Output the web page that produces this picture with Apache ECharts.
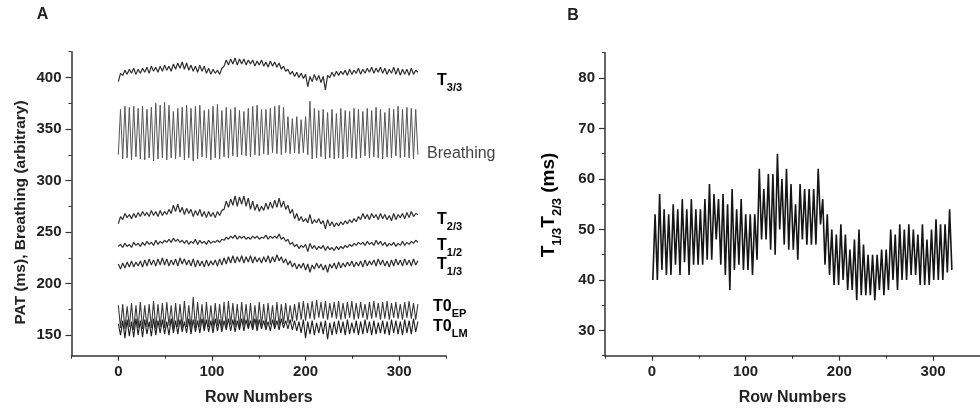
<!DOCTYPE html>
<html>
<head>
<meta charset="utf-8">
<script src="https://cdn.jsdelivr.net/npm/echarts@6/dist/echarts.min.js"></script>
<style>
html, body { margin: 0; padding: 0; background: #fff; }
#chart { width: 980px; height: 412px; }
</style>
</head>
<body>
<div id="chart"></div>
<script>
// values read at successive peaks / troughs of each trace (rows 0..320)
var t33 = [396,404,402,407,403,408,404,409,403,408, 404,409,405,410,404,411,406,410,405,411,
  406,412,407,411,406,413,408,414,409,415, 408,414,407,412,406,411,405,412,406,411,
  404,409,403,408,404,407,403,409, 411,417,412,418,413,419,412,418,413,418,412,417,
  413,417,411,416,412,417,411,415,410,416, 411,415,410,414,408,411,406,408,403,406,
  401,405,400,404,399,403, 391,401,396,403,397,402,395,401,388,402,400,405,401,406,
  402,406,403,407,402,408,403,407,404,409, 403,408,404,409,405,410,404,409,405,410,
  404,409,403,408,404,410,403,409,402,408, 403,408,402,409,403,407,405];
var breathing = [325,369,321,372,322,371,320,372,323,370, 321,372,320,369,322,371,319,375,321,373,
  322,376,320,373,322,367,321,370,323,371, 320,373,322,370,319,372,321,373,323,368,
  322,369,320,372,322,374,321,368,323,371, 322,369,324,371,323,368,325,367,324,370,
  323,372,325,373,324,369,326,369,325,370, 327,372,326,373,325,371,327,362,326,360,
  327,362,326,359,327,362,325,377,321,370, 322,368,323,369,321,366,322,369,321,365,
  322,370,321,368,323,367,322,370,321,369, 322,367,324,370,322,368,323,371,322,369,
  321,366,323,370,322,369,324,372,322,369, 323,371,322,370,321,369,325];
var t23 = [258,265,262,268,264,267,263,268,264,269, 265,270,266,269,265,271,266,270,265,271,
  266,270,267,272,268,276,270,277,269,274, 267,273,268,272,265,271,266,272,265,270,
  264,270,265,269,264,270,266,271, 272,280,274,282,276,285,275,284,277,285,275,283,
  272,280,271,277,270,275,271,278,272,279, 273,281,274,283,274,280,272,276,268,272,
  263,268,261,265,260,263,259,267,258,262, 259,263,258,261,253,262,256,260,255,259,
  256,260,257,261,258,262,259,263,260,265, 262,268,263,267,262,268,264,267,262,268,
  263,267,262,266,261,268,262,267,264,268, 263,269,264,270,265,268,267];
var t12 = [236,238,235,239,236,238,235,240,237,239, 236,240,237,241,238,240,237,242,238,241,
  239,242,240,243,240,244,241,243,240,242, 239,242,238,241,239,243,238,242,239,241,
  238,242,239,241,240,242,240,243, 242,245,243,246,244,247,243,246,244,246,243,245,
  243,246,244,246,243,245,244,247,243,246, 244,246,244,248,243,245,241,243,238,240,
  236,238,234,237,235,238,231,239,234,237, 233,236,234,237,232,236,233,235,232,236,
  233,236,234,237,235,238,236,239,237,240, 238,240,237,241,238,240,237,242,238,241,
  237,240,236,239,237,240,236,239,237,241, 237,240,238,241,239,242,240];
var t13 = [219,214,220,215,221,216,222,216,221,217, 222,216,223,217,224,218,223,217,224,218,
  225,218,224,217,223,218,224,217,225,219, 224,218,223,217,224,216,223,217,222,216,
  223,217,222,218,223,217,224,218, 225,219,226,220,227,220,226,221,227,220,226,221,
  227,220,226,221,225,220,226,221,227,220, 226,221,228,222,226,220,224,218,222,216,
  220,214,219,215,220,213,219,211,218,214, 220,215,219,213,218,211,219,215,220,214,
  221,215,220,216,221,217,222,216,221,217, 222,216,223,217,222,218,223,217,224,218,
  223,217,222,216,223,217,224,218,223,217, 224,218,223,217,224,218,222];
var t0ep = [179,157,180,156,178,158,181,155,179,157, 182,156,179,158,180,157,183,156,180,158,
  181,157,182,159,179,156,181,158,180,157, 183,158,179,156,187,157,182,158,180,156,
  182,158,179,157,181,159,180,157,182,158, 183,160,181,158,180,157,182,159,180,158,
  181,157,179,158,182,159,180,158,181,160, 179,158,182,159,180,161,181,162,179,163,
  180,164,182,165,183,164,181,166,183,165, 184,167,182,166,183,165,181,167,182,166,
  183,165,181,166,182,167,183,165,181,166, 182,167,180,165,182,166,183,167,181,165,
  182,166,183,165,181,167,182,166,180,165, 182,167,183,166,181,165,180];
var t0lm = [161,150,164,147,165,149,163,148,166,150, 164,148,165,151,163,149,166,150,164,152,
  165,151,163,150,166,152,164,151,165,153, 163,152,166,151,165,153,164,152,166,154,
  165,153,164,152,166,154,165,153,164,155, 166,154,165,153,164,155,166,154,165,156,
  164,155,166,154,165,156,164,155,163,154, 165,156,164,155,166,157,164,156,165,155,
  164,154,163,152,165,147,163,151,164,150, 162,152,163,151,164,146,162,150,163,151,
  164,152,163,150,165,151,162,152,164,150, 163,151,165,152,163,150,164,151,162,152,
  164,151,163,150,165,152,164,151,163,150, 165,152,164,151,166,153,163];
// panel B: T1/3 T2/3 (ms), rows 1..320
var t13t23 = [40,53,40,57,42,54,41,53,41,55, 43,54,41,56,43.5,54,41,56,43,54,
  43,54,43,56,44,59,44,57,48,56, 43,57,41,55,38,58,42,54,43,56, 42,53,42,53,41,53,44,
  62,48,58,48,61,46,61,45,65,50, 60,47,62,46,59,46,55,44,59,48, 58,47,58,47,58,47,62,51,56,43,
  53,41,50,39,49,39,51,40,49,38, 46,38,48,36,50,37,47,37,45,37, 45,36,45,38,46,37,46,38,50,40,
  49,38,51,40,50,40,51,41,50,41, 49,39,51,39,48,39,50,40,52,40, 51,40,51,41.5,54,42];

var xTicks = [0, 100, 200, 300];
var xMinor = [-50, 50, 150, 250, 350];
var yTicksA = [150, 200, 250, 300, 350, 400];
var yMinorA = [175, 225, 275, 325, 375, 425];
var yTicksB = [30, 40, 50, 60, 70, 80];
var yMinorB = [25, 35, 45, 55, 65, 75, 85];

function toPoints(vals, first, last) {
  var step = (last - first) / (vals.length - 1);
  return vals.map(function (v, i) { return [first + i * step, v]; });
}

var FONT = '"Liberation Sans", Arial, sans-serif';
var axisCol = '#333';
var labelStyle = { fontFamily: FONT, fontWeight: 'bold', fontSize: 15, color: '#222' };

function mainX(grid) {
  return {
    type: 'value', gridIndex: grid, min: -50, max: 350, position: 'bottom',
    axisLine: { show: true, onZero: false, lineStyle: { color: axisCol, width: 1.5 } },
    axisTick: { show: true, customValues: xTicks, length: 5, lineStyle: { color: axisCol, width: 1.2 } },
    axisLabel: Object.assign({ customValues: xTicks, margin: 9 }, labelStyle),
    splitLine: { show: false },
    name: 'Row Numbers', nameLocation: 'middle', nameGap: 34,
    nameTextStyle: { fontFamily: FONT, fontWeight: 'bold', fontSize: 16, color: '#222' }
  };
}
function minorX(grid) {
  return {
    type: 'value', gridIndex: grid, min: -50, max: 350, position: 'bottom',
    axisLine: { show: false, onZero: false },
    axisTick: { show: true, customValues: xMinor, length: 3, lineStyle: { color: axisCol, width: 1 } },
    axisLabel: { show: false }, splitLine: { show: false }
  };
}
function mainY(grid, min, max, ticks) {
  return {
    type: 'value', gridIndex: grid, min: min, max: max, position: 'left',
    axisLine: { show: true, onZero: false, lineStyle: { color: axisCol, width: 1.5 } },
    axisTick: { show: true, customValues: ticks, length: 6, lineStyle: { color: axisCol, width: 1.2 } },
    axisLabel: Object.assign({ customValues: ticks, margin: 10 }, labelStyle),
    splitLine: { show: false }
  };
}
function minorY(grid, min, max, ticks) {
  return {
    type: 'value', gridIndex: grid, min: min, max: max, position: 'left',
    axisLine: { show: false, onZero: false },
    axisTick: { show: true, customValues: ticks, length: 3, lineStyle: { color: axisCol, width: 1 } },
    axisLabel: { show: false }, splitLine: { show: false }
  };
}
function trace(name, vals, color, width, first) {
  return {
    name: name, type: 'line', xAxisIndex: 0, yAxisIndex: 0,
    data: toPoints(vals, first, 320), showSymbol: false, symbol: 'none',
    lineStyle: { color: color, width: width }, silent: true
  };
}

function richSet(big, small, drop) {
  return {
    m: { fontFamily: FONT, fontWeight: 'bold', fontSize: big, color: '#222', lineHeight: big + 2, verticalAlign: 'bottom' },
    s: { fontFamily: FONT, fontWeight: 'bold', fontSize: small, color: '#222', lineHeight: small, verticalAlign: 'bottom', padding: [0, 0, -drop, 0] }
  };
}
var sub = richSet(16, 11, 4);
function seriesLabel(txt, x, y) {
  return { type: 'text', x: x, y: y, style: { text: txt, rich: sub, verticalAlign: 'middle' } };
}

var chart = echarts.init(document.getElementById('chart'), null, { renderer: 'canvas' });
chart.setOption({
  animation: false,
  backgroundColor: '#fff',
  grid: [
    { left: 71.5, top: 51.7, width: 374.5, height: 304 },
    { left: 605, top: 52.7, width: 376, height: 303 }
  ],
  xAxis: [mainX(0), minorX(0), mainX(1), minorX(1)],
  yAxis: [
    mainY(0, 130, 425, yTicksA), minorY(0, 130, 425, yMinorA),
    mainY(1, 25, 85, yTicksB), minorY(1, 25, 85, yMinorB)
  ],
  series: [
    trace('T3/3', t33, '#2e2e2e', 1.2, 0),
    trace('Breathing', breathing, '#555', 1, 0),
    trace('T2/3', t23, '#2e2e2e', 1.2, 0),
    trace('T1/2', t12, '#2e2e2e', 1.2, 0),
    trace('T1/3', t13, '#2e2e2e', 1.2, 0),
    trace('T0EP', t0ep, '#3a3a3a', 1.1, 0),
    trace('T0LM', t0lm, '#1e1e1e', 1.1, 0),
    {
      name: 'T1/3T2/3', type: 'line', xAxisIndex: 2, yAxisIndex: 2,
      data: toPoints(t13t23, 1, 320), showSymbol: false, symbol: 'none',
      lineStyle: { color: '#151515', width: 1.6 }, silent: true
    }
  ],
  graphic: [
    { type: 'text', x: 42.5, y: 15, style: { text: 'A', font: 'bold 16px ' + FONT, fill: '#222', align: 'center', verticalAlign: 'middle' } },
    { type: 'text', x: 573, y: 15.5, style: { text: 'B', font: 'bold 16px ' + FONT, fill: '#222', align: 'center', verticalAlign: 'middle' } },
    { type: 'text', x: 21, y: 212.5, rotation: Math.PI / 2,
      style: { text: 'PAT (ms), Breathing (arbitrary)', font: 'bold 15.5px ' + FONT, fill: '#222', align: 'center', verticalAlign: 'middle' } },
    { type: 'text', x: 548, y: 205, rotation: Math.PI / 2,
      style: { text: '{m|T}{s|1/3}{m|T}{s|2/3}{m| (ms)}', rich: richSet(19, 13, 5), align: 'center', verticalAlign: 'middle' } },
    seriesLabel('{m|T}{s|3/3}', 437, 80),
    { type: 'text', x: 427, y: 154, style: { text: 'Breathing', font: '16px ' + FONT, fill: '#444', verticalAlign: 'middle' } },
    seriesLabel('{m|T}{s|2/3}', 437, 219),
    seriesLabel('{m|T}{s|1/2}', 437, 245),
    seriesLabel('{m|T}{s|1/3}', 437, 264),
    seriesLabel('{m|T0}{s|EP}', 433, 306),
    seriesLabel('{m|T0}{s|LM}', 433, 326)
  ]
});
</script>
</body>
</html>
